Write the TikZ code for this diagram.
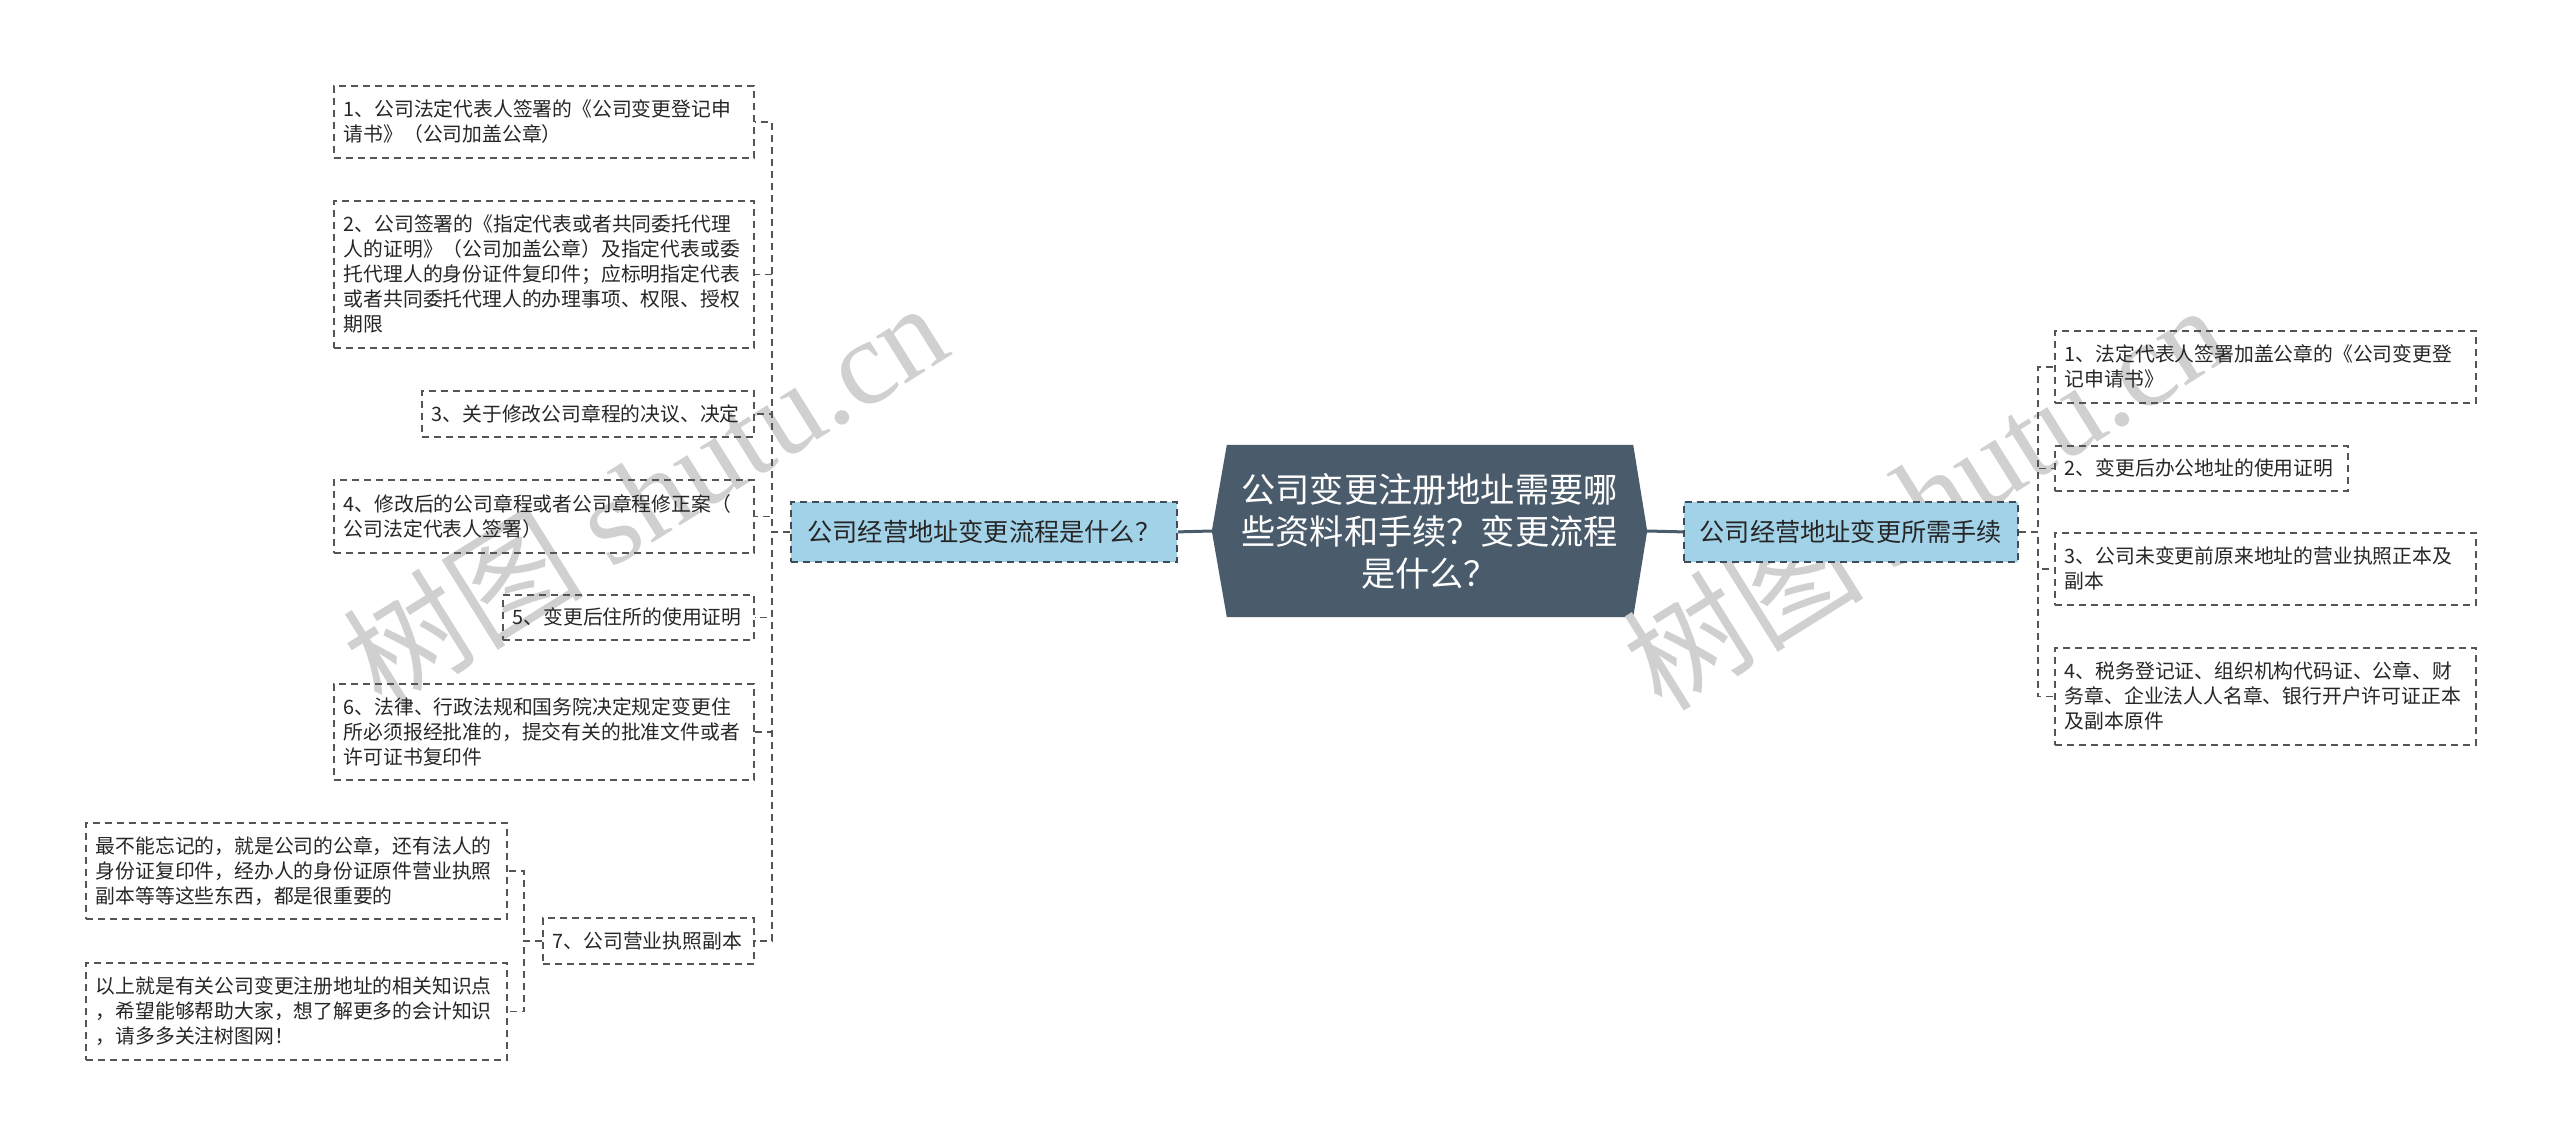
\documentclass[tikz,border=0pt]{standalone}
\usepackage{fontspec}
\setmainfont{Noto Sans CJK SC}
\newfontfamily\wmlatin{Liberation Serif}
\usetikzlibrary{calc,backgrounds}
\definecolor{centerfill}{HTML}{4A5B6B}
\definecolor{branchfill}{HTML}{A2D2E8}
\definecolor{branchline}{HTML}{3E4C59}
\definecolor{linec}{HTML}{555555}
\definecolor{leaftext}{HTML}{262626}
\definecolor{wmgray}{HTML}{D0D0D0}
\begin{document}
\begin{tikzpicture}[x=1pt,y=-1pt,
  leaf/.style={draw=linec, line width=1.6pt, dash pattern=on 7pt off 5pt,
    inner xsep=10pt, inner ysep=0pt, align=left, anchor=north west,
    text=leaftext, font=\fontsize{19.8}{25}\selectfont},
  branch/.style={fill=branchfill, draw=branchline, line width=1.8pt,
    dash pattern=on 7pt off 5pt, inner sep=0pt, anchor=north west,
    minimum height=60pt, text=leaftext, font=\fontsize{25.2}{30}\selectfont},
  centre/.style={inner sep=0pt, minimum width=435pt, minimum height=172pt,
    align=center, text=white, font=\fontsize{34.2}{42}\selectfont},
  conn/.style={draw=linec, line width=1.6pt, dash pattern=on 7pt off 5pt},
  mainline/.style={draw=centerfill, line width=3pt},
  wm/.style={text=wmgray, inner sep=0pt, font=\fontsize{121}{121}\selectfont, rotate=32, anchor=base west}
]
\useasboundingbox (0,0) rectangle (2560,1145);

% watermarks
\node[wm] (wm1) at (382,712) {树图 {\wmlatin shutu.cn}};
\node[wm] (wm2) at (1662,714) {树图 {\wmlatin shutu.cn}};

% centre
\node[centre] (C) at (1429.5,531) {公司变更注册地址需要哪\\些资料和手续？变更流程\\是什么？};
\begin{pgfonlayer}{background}
\fill[white] (0,0) rectangle (2560,1145);
\fill[centerfill] ($(C.north west)+(15,0)$) -- ($(C.north east)+(-14,0)$) -- (C.east)
  -- ($(C.south east)+(-14,0)$) -- ($(C.south west)+(15,0)$) -- (C.west) -- cycle;
\end{pgfonlayer}

% branches
\node[branch, minimum width=386pt] (LB) at (790,501) {公司经营地址变更流程是什么？};
\node[branch, minimum width=334pt] (RB) at (1683,501) {公司经营地址变更所需手续};

% left leaves
\node[leaf, text width=400pt, minimum height=72pt] (L1) at (333,85) {1、公司法定代表人签署的《公司变更登记申\\请书》（公司加盖公章）};
\node[leaf, text width=400pt, minimum height=147pt] (L2) at (333,200) {2、公司签署的《指定代表或者共同委托代理\\人的证明》（公司加盖公章）及指定代表或委\\托代理人的身份证件复印件；应标明指定代表\\或者共同委托代理人的办理事项、权限、授权\\期限};
\node[leaf, text width=312pt, minimum height=46pt] (L3) at (421,390) {3、关于修改公司章程的决议、决定};
\node[leaf, text width=400pt, minimum height=73pt] (L4) at (333,479) {4、修改后的公司章程或者公司章程修正案（\\公司法定代表人签署）};
\node[leaf, text width=231pt, minimum height=45pt] (L5) at (502,594) {5、变更后住所的使用证明};
\node[leaf, text width=400pt, minimum height=96pt] (L6) at (333,683) {6、法律、行政法规和国务院决定规定变更住\\所必须报经批准的，提交有关的批准文件或者\\许可证书复印件};
\node[leaf, text width=191pt, minimum height=46pt] (L7) at (542,917) {7、公司营业执照副本};
\node[leaf, text width=401pt, minimum height=96pt] (A) at (85,822) {最不能忘记的，就是公司的公章，还有法人的\\身份证复印件，经办人的身份证原件营业执照\\副本等等这些东西，都是很重要的};
\node[leaf, text width=401pt, minimum height=97pt] (B) at (85,962) {以上就是有关公司变更注册地址的相关知识点\\，希望能够帮助大家，想了解更多的会计知识\\，请多多关注树图网！};

% right leaves
\node[leaf, text width=401pt, minimum height=72pt] (R1) at (2054,330) {1、法定代表人签署加盖公章的《公司变更登\\记申请书》};
\node[leaf, text width=273pt, minimum height=45pt] (R2) at (2054,445) {2、变更后办公地址的使用证明};
\node[leaf, text width=401pt, minimum height=72pt] (R3) at (2054,532) {3、公司未变更前原来地址的营业执照正本及\\副本};
\node[leaf, text width=401pt, minimum height=97pt] (R4) at (2054,647) {4、税务登记证、组织机构代码证、公章、财\\务章、企业法人人名章、银行开户许可证正本\\及副本原件};

% connectors
\draw[mainline] (C.west) -- (LB.east);
\draw[mainline] (C.east) -- (RB.west);
\foreach \n in {L1,L2,L3,L4,L5,L6,L7}
  \draw[conn] (LB.west) -- ++(-18,0) |- (\n.east);
\foreach \n in {A,B}
  \draw[conn] (L7.west) -- ++(-18,0) |- (\n.east);
\foreach \n in {R1,R2,R3,R4}
  \draw[conn] (RB.east) -- ++(19,0) |- (\n.west);
\end{tikzpicture}
\end{document}
